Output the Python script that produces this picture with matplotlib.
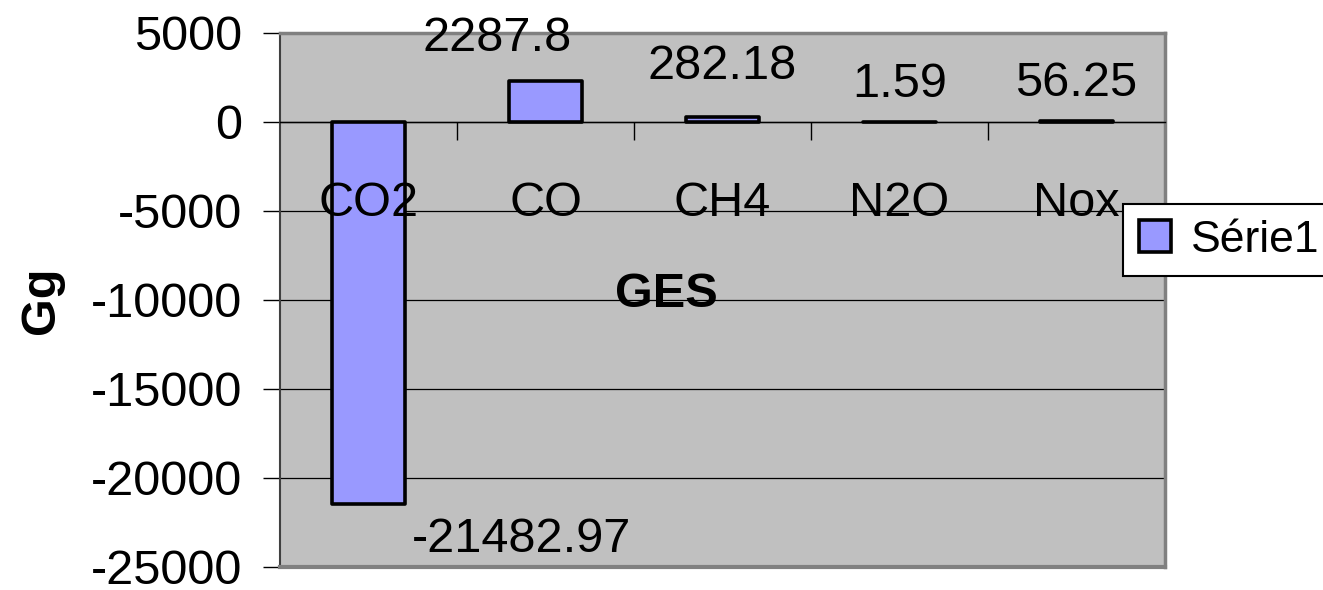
import matplotlib.pyplot as plt
from matplotlib.ticker import MultipleLocator

categories = ["CO2", "CO", "CH4", "N2O", "Nox"]
values = [-21482.97, 2287.8, 282.18, 1.59, 56.25]
value_labels = ["-21482.97", "2287.8", "282.18", "1.59", "56.25"]
series_name = "Série1"

# label offsets in points (Excel had a couple moved by hand)
label_offsets = [(110, -25), (-35, 31), (0, 36), (0, 27), (0, 27)]

plt.rcParams["font.family"] = ["Liberation Sans", "DejaVu Sans"]
plt.rcParams["axes.unicode_minus"] = False
FS = 35

fig = plt.figure(figsize=(13.23, 5.90), dpi=100)
ax = fig.add_axes([280 / 1323, 1 - 567 / 590, 885 / 1323, 534 / 590])
ax.set_facecolor("#C0C0C0")

x = list(range(len(categories)))
bars = ax.bar(x, values, width=0.41, color="#9999FF", edgecolor="black",
              linewidth=2.6, label=series_name, zorder=3)
for b in bars:
    b.set_joinstyle("round")
    b.set_capstyle("round")

for i, (v, txt) in enumerate(zip(values, value_labels)):
    dx, dy = label_offsets[i]
    ax.annotate(txt, xy=(i, v), xytext=(dx, dy), textcoords="offset points",
                ha="center", va="center", fontsize=FS, zorder=4)

# category names sit inside the plot, over the bars
for i, name in enumerate(categories):
    ax.annotate(name, xy=(i, 0), xytext=(0, -59), textcoords="offset points",
                ha="center", va="center", fontsize=FS, zorder=6)

ax.set_xlim(-0.5, len(categories) - 0.5)
ax.set_ylim(-25000, 5000)
ax.yaxis.set_major_locator(MultipleLocator(5000))
ax.yaxis.grid(True, color="black", linewidth=0.9, zorder=1)
ax.set_axisbelow(True)
ax.tick_params(axis="y", labelsize=FS, length=12, width=1, direction="out", pad=15)

ax.spines["bottom"].set_position(("data", 0))
ax.spines["bottom"].set_color("black")
ax.spines["bottom"].set_linewidth(1)
ax.spines["left"].set_color("#404040")
ax.spines["left"].set_linewidth(1.5)
for s in ["top", "right"]:
    ax.spines[s].set_color("#808080")
    ax.spines[s].set_linewidth(2.5)
ax.axhline(-25000, color="#808080", linewidth=3, clip_on=False, zorder=5)

ax.set_xticks(x)
ax.set_xticklabels([])
ax.set_xticks([i + 0.5 for i in x], minor=True)
ax.tick_params(axis="x", which="major", length=0)
ax.tick_params(axis="x", which="minor", length=13, width=1, direction="out")

ax.text(0.437, 0.511, "GES", transform=ax.transAxes, ha="center", va="center",
        fontsize=FS, fontweight="bold", zorder=6)
fig.text(42 / 1323, 1 - 300 / 590, "Gg", rotation=90, ha="center", va="center",
         fontsize=FS, fontweight="bold")

leg = fig.legend(loc="upper left", bbox_to_anchor=(1123 / 1323, 1 - 204 / 590),
                 fontsize=32, frameon=True, fancybox=False, shadow=False,
                 handlelength=0.72, handleheight=0.72, handletextpad=0.45,
                 borderpad=0.35, borderaxespad=0)
leg.get_frame().set_edgecolor("black")
leg.get_frame().set_linewidth(1.5)
leg.get_frame().set_facecolor("white")
leg.get_frame().set_alpha(1)

fig.savefig("out.png", dpi=100)
